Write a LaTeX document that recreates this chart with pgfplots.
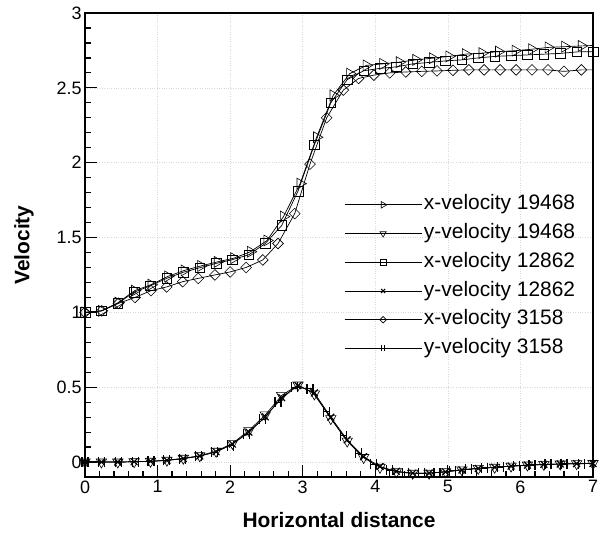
\documentclass[border=0pt]{standalone}
\usepackage{fontspec}
\setmainfont{Liberation Sans}
\usepackage{pgfplots}
\pgfplotsset{compat=1.18}
\pgfdeclareplotmark{Hbar}{%
  \pgfpathmoveto{\pgfqpoint{-0.6\pgfplotmarksize}{-\pgfplotmarksize}}%
  \pgfpathlineto{\pgfqpoint{-0.6\pgfplotmarksize}{\pgfplotmarksize}}%
  \pgfpathmoveto{\pgfqpoint{0.6\pgfplotmarksize}{-\pgfplotmarksize}}%
  \pgfpathlineto{\pgfqpoint{0.6\pgfplotmarksize}{\pgfplotmarksize}}%
  \pgfpathmoveto{\pgfqpoint{-0.6\pgfplotmarksize}{0pt}}%
  \pgfpathlineto{\pgfqpoint{0.6\pgfplotmarksize}{0pt}}%
  \pgfusepathqstroke}

\pgfplotstableread{
x y
0 1.0
0.228 1.01
0.456 1.065
0.684 1.145
0.912 1.185
1.14 1.24
1.368 1.28
1.596 1.31
1.824 1.337
2.052 1.362
2.28 1.405
2.508 1.48
2.736 1.64
2.964 1.86
3.192 2.17
3.42 2.45
3.648 2.595
3.876 2.65
4.104 2.66
4.332 2.672
4.56 2.687
4.788 2.698
5.016 2.71
5.244 2.725
5.472 2.732
5.70 2.742
5.928 2.748
6.156 2.758
6.384 2.77
6.612 2.775
6.84 2.78
7.0 2.783
}\xvA

\pgfplotstableread{
x y
0 0
0.226 0
0.452 0
0.677 0.002
0.903 0.005
1.129 0.012
1.355 0.025
1.581 0.042
1.806 0.072
2.032 0.125
2.258 0.21
2.484 0.315
2.710 0.445
2.935 0.515
3.161 0.455
3.387 0.29
3.613 0.14
3.839 0.03
4.065 -0.035
4.290 -0.065
4.516 -0.075
4.742 -0.075
4.968 -0.065
5.194 -0.052
5.419 -0.042
5.645 -0.035
5.871 -0.027
6.097 -0.020
6.323 -0.016
6.548 -0.013
6.774 -0.011
7.0 -0.010
}\yvA

\pgfplotstableread{
x y
0 1.0
0.226 1.01
0.452 1.06
0.677 1.135
0.903 1.178
1.129 1.228
1.355 1.268
1.581 1.298
1.806 1.327
2.032 1.352
2.258 1.385
2.484 1.46
2.710 1.58
2.935 1.81
3.161 2.12
3.387 2.40
3.613 2.555
3.839 2.614
4.065 2.63
4.290 2.64
4.516 2.66
4.742 2.67
4.968 2.68
5.194 2.687
5.419 2.70
5.645 2.71
5.871 2.715
6.097 2.72
6.323 2.725
6.548 2.73
6.774 2.74
7.0 2.742
}\xvB

\pgfplotstableread{
x y
0 0
0.226 0
0.452 0
0.677 0.002
0.903 0.005
1.129 0.011
1.355 0.023
1.581 0.040
1.806 0.069
2.032 0.120
2.258 0.200
2.484 0.302
2.710 0.430
2.935 0.510
3.161 0.462
3.387 0.300
3.613 0.148
3.839 0.036
4.065 -0.030
4.290 -0.062
4.516 -0.074
4.742 -0.074
4.968 -0.066
5.194 -0.053
5.419 -0.043
5.645 -0.035
5.871 -0.027
6.097 -0.021
6.323 -0.016
6.548 -0.013
6.774 -0.011
7.0 -0.010
}\yvB

\pgfplotstableread{
x y
0 1.0
0.23 1.01
0.46 1.06
0.69 1.10
0.91 1.145
1.125 1.17
1.346 1.205
1.56 1.227
1.79 1.25
2.0 1.27
2.22 1.30
2.45 1.35
2.66 1.46
2.89 1.66
3.10 1.99
3.33 2.30
3.56 2.485
3.77 2.563
3.98 2.585
4.2 2.60
4.42 2.606
4.64 2.61
4.85 2.613
5.07 2.617
5.29 2.62
5.5 2.62
5.72 2.62
5.94 2.62
6.16 2.62
6.38 2.62
6.6 2.61
6.84 2.62
7.0 2.62
}\xvC

\pgfplotstableread{
x y
0 0
0.23 0
0.46 0
0.69 0.002
0.91 0.005
1.125 0.011
1.346 0.022
1.56 0.038
1.79 0.065
2.0 0.11
2.22 0.185
2.45 0.285
2.66 0.40
2.89 0.50
3.10 0.49
3.33 0.335
3.56 0.175
3.77 0.06
3.98 -0.015
4.2 -0.055
4.42 -0.072
4.64 -0.076
4.85 -0.070
5.07 -0.058
5.29 -0.047
5.5 -0.040
5.72 -0.033
5.94 -0.026
6.16 -0.020
6.38 -0.016
6.6 -0.013
6.84 -0.011
7.0 -0.010
}\yvC

\begin{document}
\begin{tikzpicture}
\begin{axis}[
  scale only axis,
  width=508bp, height=464bp,
  xmin=0, xmax=7, ymin=-0.1, ymax=3,
  xtick={0,1,...,7},
  ytick={0,0.5,1,1.5,2,2.5,3},
  yticklabels={0,0.5,1,1.5,2,2.5,3},
  minor x tick num=4, minor y tick num=4,
  tick pos=left, tick align=inside,
  major tick length=12bp, minor tick length=6bp,
  every tick/.style={black, line width=1.2bp},
  axis line style={line width=1.8bp},
  grid=major, major grid style={dotted, gray!30, line width=0.5bp},
  /pgf/number format/assume math mode=true,
  ticklabel style={font=\fontsize{18}{20}\selectfont},
  xlabel={Horizontal distance},
  ylabel={Velocity},
  label style={font=\fontsize{21}{24}\selectfont\bfseries},
  xlabel style={at={(axis description cs:0.5,0)}, anchor=center, yshift=-43bp},
  ylabel style={at={(axis description cs:0,0.5)}, anchor=center, yshift=61bp},
  legend style={draw=none, fill=none, at={(axis cs:3.57,1.80)}, anchor=north west,
    font=\fontsize{21}{24}\selectfont, inner sep=0pt, row sep=4.75bp,
    nodes={text height=15bp, text depth=5bp, inner xsep=2bp}},
  legend cell align=left,
  legend image code/.code={%
    \draw[#1, every mark/.append style={scale=0.6}, mark indices={2}]
      plot coordinates {(0bp,0bp) (38.5bp,0bp) (77bp,0bp)};},
  every axis plot/.append style={black, line width=0.7bp},
]
\addplot[mark=triangle, mark size=6.3bp, mark options={solid, rotate=-90, line width=0.6bp}, mark indices={1,...,31}] table {\xvA};
\addlegendentry{x-velocity 19468}
\addplot[mark=triangle, mark size=6bp, mark options={solid, rotate=180, line width=0.6bp}] table {\yvA};
\addlegendentry{y-velocity 19468}
\addplot[mark=square, mark size=4.8bp, mark options={solid, line width=0.6bp}] table {\xvB};
\addlegendentry{x-velocity 12862}
\addplot[mark=x, mark size=4.8bp, mark options={solid, line width=1.2bp}] table {\yvB};
\addlegendentry{y-velocity 12862}
\addplot[mark=square, mark size=3.8bp, mark options={solid, rotate=45, line width=0.6bp}, mark indices={1,...,32}] table {\xvC};
\addlegendentry{x-velocity 3158}
\addplot[mark=Hbar, mark size=5bp, mark options={solid, line width=1.1bp}, mark indices={1,...,32}] table {\yvC};
\addlegendentry{y-velocity 3158}
\end{axis}
\path (current axis.south west) ++(-85bp,-55bp) (current axis.north east) ++(11bp,13bp);
\end{tikzpicture}
\end{document}
